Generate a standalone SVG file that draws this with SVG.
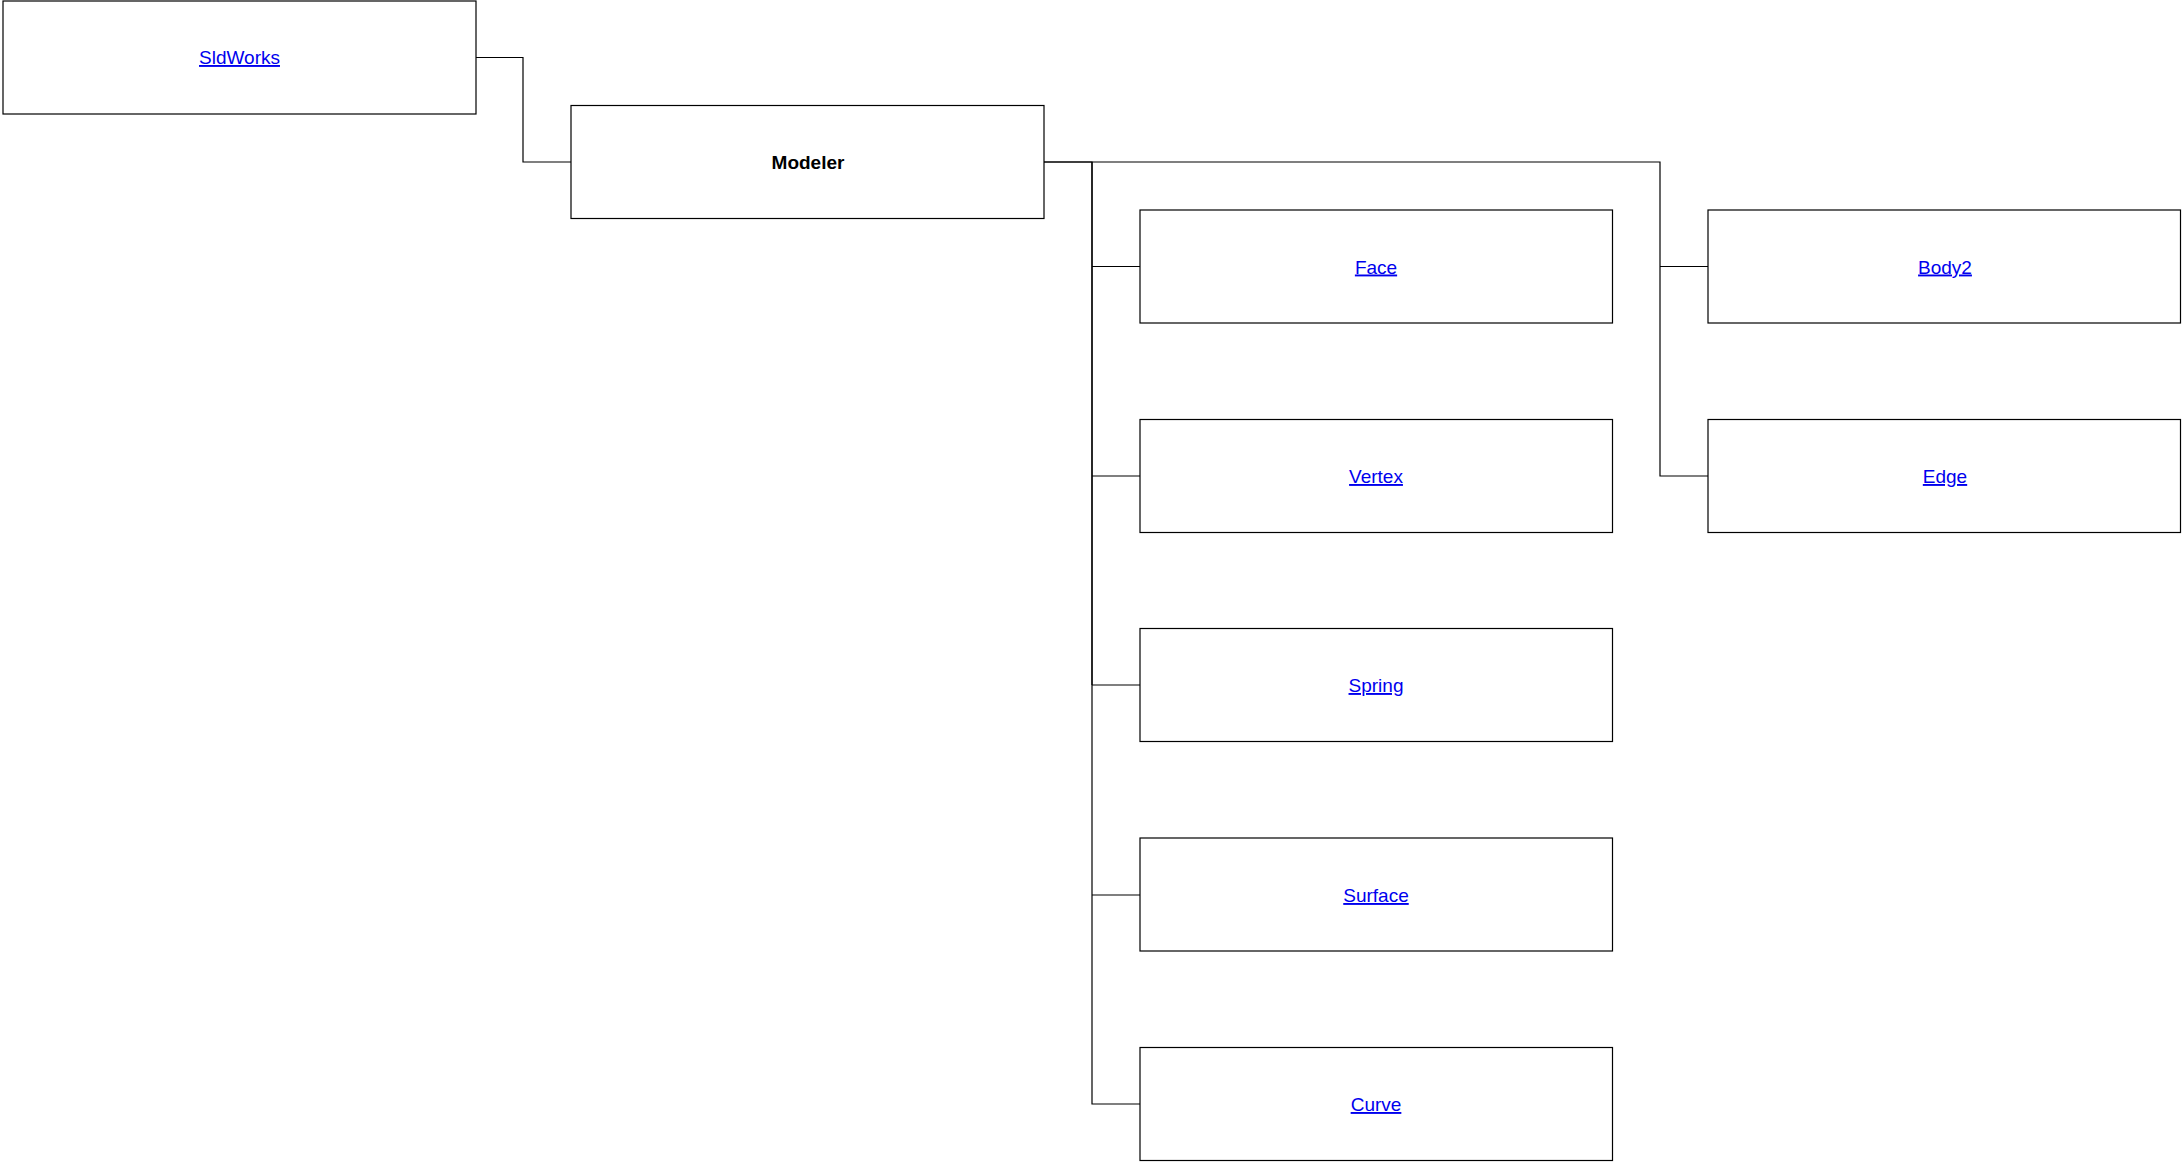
<svg xmlns="http://www.w3.org/2000/svg" width="2183" height="1162" viewBox="0 0 2183 1162">
<style>
.box{fill:#fff;stroke:#000;stroke-width:1.2}
.lbl{font-family:"Liberation Sans",Arial,sans-serif;font-size:19px;text-anchor:middle}
.lnk{fill:#0000ee;text-decoration:underline}
.bold{fill:#000;font-weight:bold}
.con{fill:none;stroke:#000;stroke-width:1.2}
</style>
<rect width="2183" height="1162" fill="#fff"/>
<g id="connectors">
<polyline class="con" points="476,57.5 523,57.5 523,162 571,162"/>
<polyline class="con" points="1044,162 1092,162 1092,1104 1140,1104"/>
<line class="con" x1="1092" y1="162" x2="1092" y2="685" stroke-width="2"/>
<line class="con" x1="1044" y1="162" x2="1092" y2="162" stroke-width="2"/>
<line class="con" x1="1092" y1="266.5" x2="1140" y2="266.5"/>
<line class="con" x1="1092" y1="476" x2="1140" y2="476"/>
<line class="con" x1="1092" y1="685" x2="1140" y2="685"/>
<line class="con" x1="1092" y1="895" x2="1140" y2="895"/>
<polyline class="con" points="1092,162 1660,162 1660,476 1708,476"/>
<line class="con" x1="1660" y1="266.5" x2="1708" y2="266.5"/>
</g>
<g id="SldWorks"><rect class="box" x="3" y="1" width="473" height="113"/><text class="lbl lnk" x="239.5" y="64">SldWorks</text></g>
<g id="Modeler"><rect class="box" x="571" y="105.5" width="473" height="113"/><text class="lbl bold" x="808" y="169">Modeler</text></g>
<g id="Face"><rect class="box" x="1140" y="210" width="472.5" height="113"/><text class="lbl lnk" x="1376" y="273.5">Face</text></g>
<g id="Vertex"><rect class="box" x="1140" y="419.5" width="472.5" height="113"/><text class="lbl lnk" x="1376" y="483">Vertex</text></g>
<g id="Spring"><rect class="box" x="1140" y="628.5" width="472.5" height="113"/><text class="lbl lnk" x="1376" y="692">Spring</text></g>
<g id="Surface"><rect class="box" x="1140" y="838" width="472.5" height="113"/><text class="lbl lnk" x="1376" y="902">Surface</text></g>
<g id="Curve"><rect class="box" x="1140" y="1047.5" width="472.5" height="113"/><text class="lbl lnk" x="1376" y="1111">Curve</text></g>
<g id="Body2"><rect class="box" x="1708" y="210" width="472.5" height="113"/><text class="lbl lnk" x="1945" y="273.5">Body2</text></g>
<g id="Edge"><rect class="box" x="1708" y="419.5" width="472.5" height="113"/><text class="lbl lnk" x="1945" y="483">Edge</text></g>
</svg>
